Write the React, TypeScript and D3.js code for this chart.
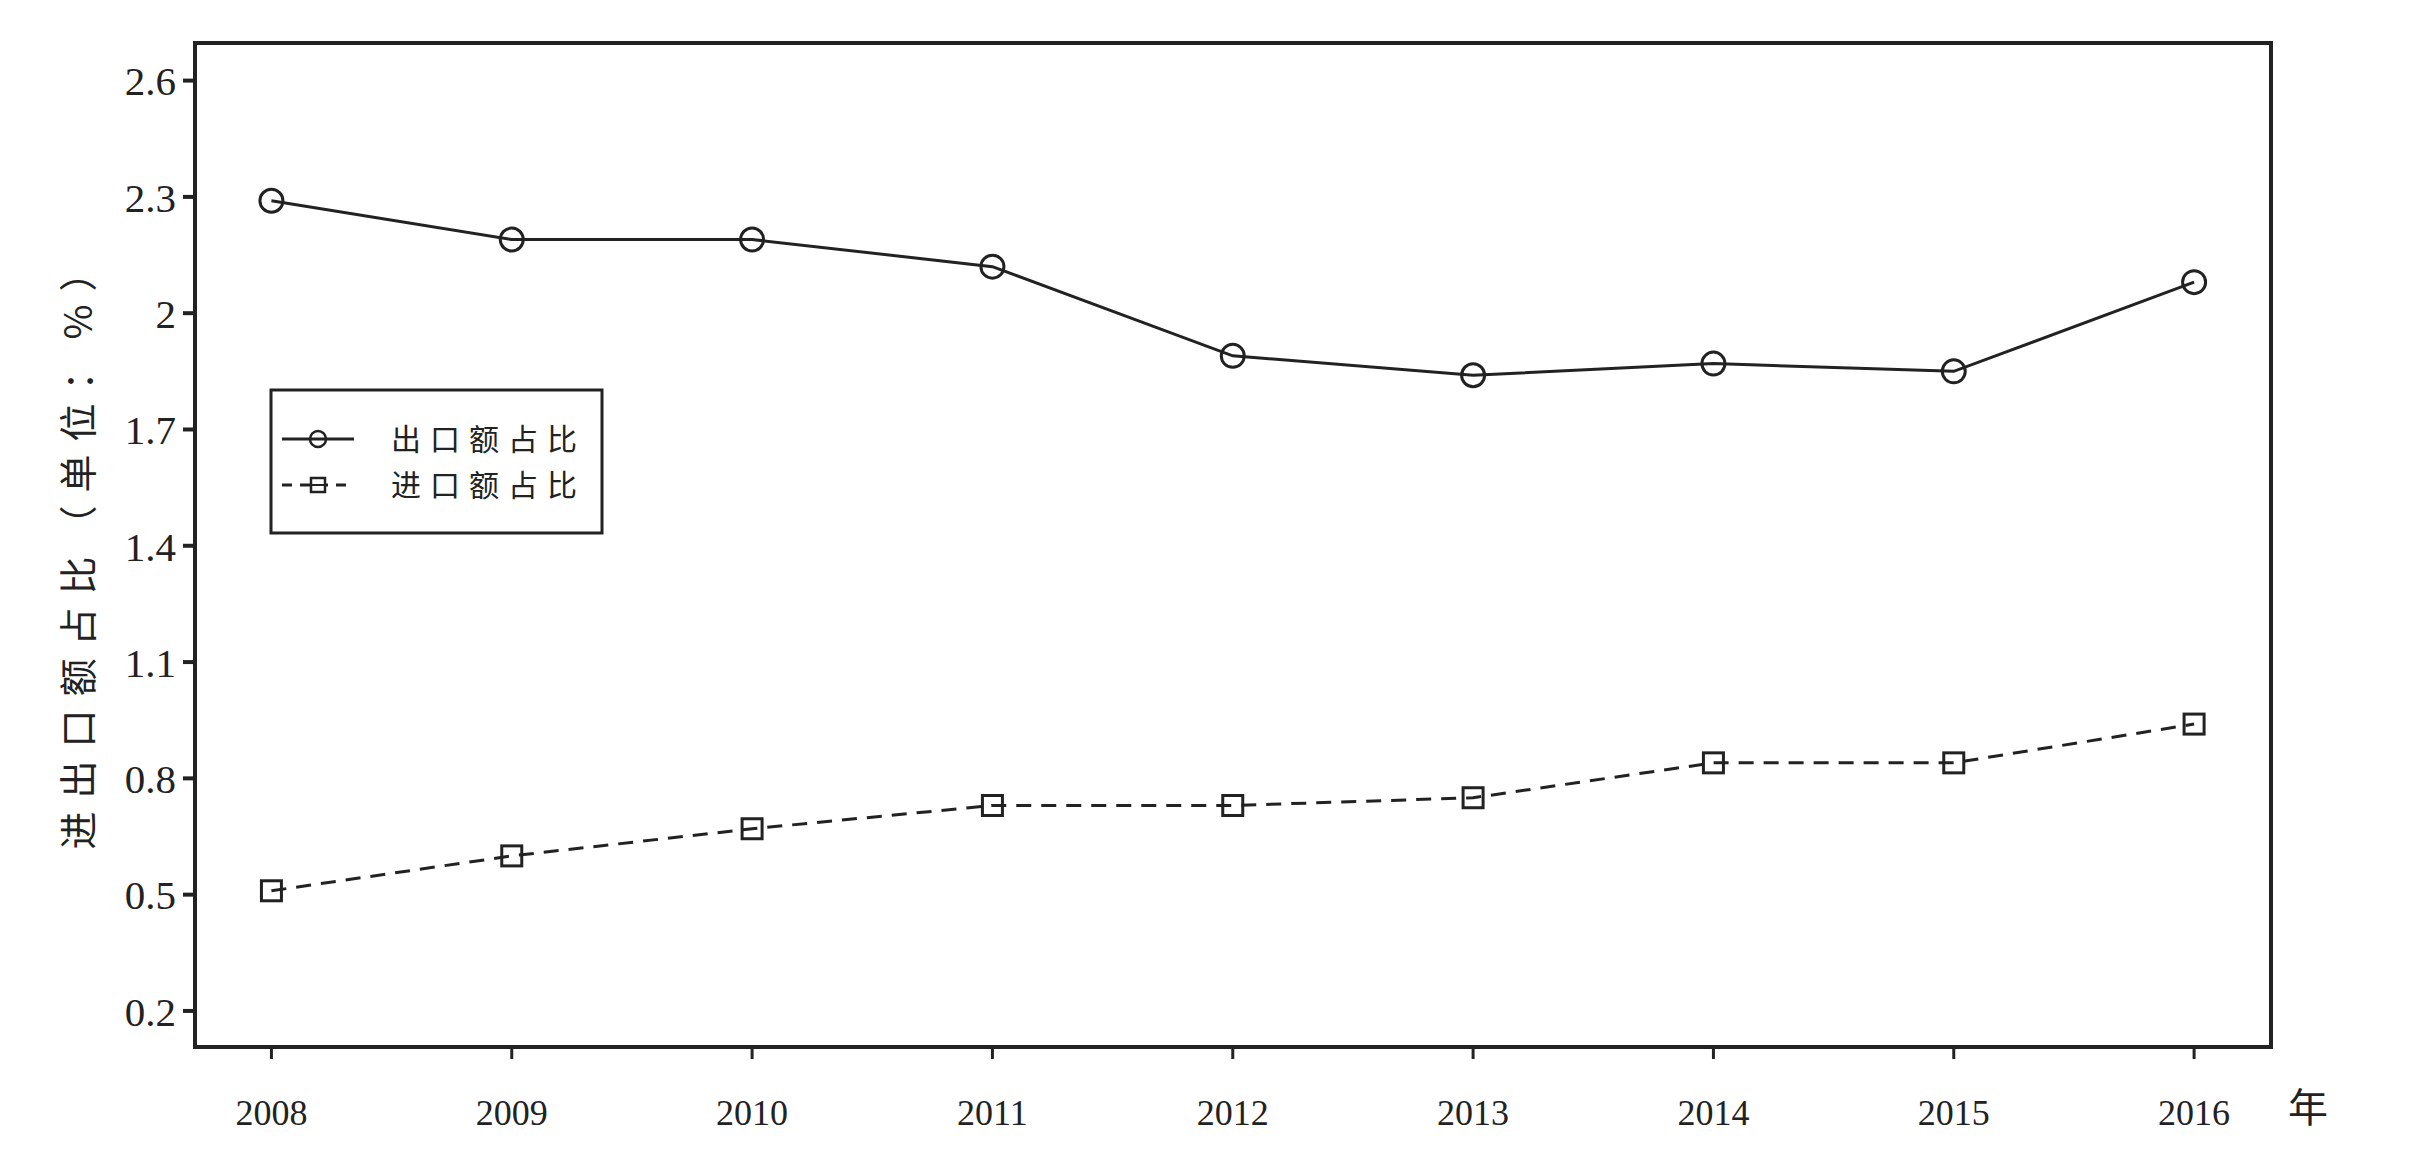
import { line, scaleLinear } from 'd3';
import React from 'react';

const years = [2008, 2009, 2010, 2011, 2012, 2013, 2014, 2015, 2016];
const exportShare = [2.29, 2.19, 2.19, 2.12, 1.89, 1.84, 1.87, 1.85, 2.08];
const importShare = [0.51, 0.6, 0.67, 0.73, 0.73, 0.75, 0.84, 0.84, 0.94];
const yTicks = [0.2, 0.5, 0.8, 1.1, 1.4, 1.7, 2.0, 2.3, 2.6];
const yTickLabels = ['0.2', '0.5', '0.8', '1.1', '1.4', '1.7', '2', '2.3', '2.6'];
const seriesNames = ['出口额占比', '进口额占比'];

const width = 2417;
const height = 1161;
const frame = { left: 195, right: 2271, top: 43, bottom: 1047 };
const ink = '#222';
const serif = '"Liberation Serif", "Times New Roman", serif';
const cjk = '"Noto Sans CJK SC", sans-serif';

const App = () => {
	const xScale = scaleLinear()
		.domain([2007.682, 2016.32])
		.range([frame.left, frame.right]);
	const yScale = scaleLinear()
		.domain([0.107, 2.697])
		.range([frame.bottom, frame.top]);

	const path = line<number>()
		.x((_, i) => xScale(years[i]))
		.y(d => yScale(d));

	const legend = { x: 271, y: 390, w: 331, h: 143 };

	return (
		<svg
			width={width}
			height={height}
			style={{ position: 'absolute', left: 0, top: 0, background: '#fff' }}
		>
			<rect x={0} y={0} width={width} height={height} fill="#fff" />

			{/* frame */}
			<rect
				x={frame.left}
				y={frame.top}
				width={frame.right - frame.left}
				height={frame.bottom - frame.top}
				fill="none"
				stroke={ink}
				strokeWidth={4}
			/>

			{/* y axis */}
			{yTicks.map((t, i) => (
				<g key={t} transform={`translate(${frame.left},${yScale(t)})`}>
					<line x1={-12} x2={0} stroke={ink} strokeWidth={4} />
					<text
						x={-19}
						dy="0.36em"
						textAnchor="end"
						fontFamily={serif}
						fontSize={41}
						fill={ink}
					>
						{yTickLabels[i]}
					</text>
				</g>
			))}

			{/* x axis */}
			{years.map(yr => (
				<g key={yr} transform={`translate(${xScale(yr)},${frame.bottom})`}>
					<line y1={0} y2={12} stroke={ink} strokeWidth={3} />
					<text
						y={78}
						textAnchor="middle"
						fontFamily={serif}
						fontSize={36}
						fill={ink}
					>
						{yr}
					</text>
				</g>
			))}
			<text
				x={2308}
				y={1122}
				textAnchor="middle"
				fontFamily={cjk}
				fontSize={40}
				fill={ink}
			>
				年
			</text>

			<text
				transform={`translate(92,545) rotate(-90)`}
				textAnchor="middle"
				fontFamily={cjk}
				fontSize={38}
				letterSpacing={13}
				fill={ink}
			>
				进出口额占比（单位：%）
			</text>

			{/* series */}
			<path d={path(exportShare) || ''} fill="none" stroke={ink} strokeWidth={3} />
			<path
				d={path(importShare) || ''}
				fill="none"
				stroke={ink}
				strokeWidth={3}
				strokeDasharray="15,10"
			/>
			{exportShare.map((v, i) => (
				<circle
					key={years[i]}
					cx={xScale(years[i])}
					cy={yScale(v)}
					r={11.5}
					fill="none"
					stroke={ink}
					strokeWidth={3}
				/>
			))}
			{importShare.map((v, i) => (
				<rect
					key={years[i]}
					x={xScale(years[i]) - 10}
					y={yScale(v) - 10}
					width={20}
					height={20}
					fill="none"
					stroke={ink}
					strokeWidth={3}
				/>
			))}

			{/* legend */}
			<rect
				x={legend.x}
				y={legend.y}
				width={legend.w}
				height={legend.h}
				fill="#fff"
				stroke={ink}
				strokeWidth={3}
			/>
			<g transform={`translate(${legend.x},${legend.y + 49})`}>
				<line x1={11} x2={83} stroke={ink} strokeWidth={3} />
				<circle cx={47} r={8} fill="none" stroke={ink} strokeWidth={2.5} />
				<text
					x={120}
					dy="0.36em"
					fontFamily={cjk}
					fontSize={30}
					letterSpacing={9}
					fill={ink}
				>
					{seriesNames[0]}
				</text>
			</g>
			<g transform={`translate(${legend.x},${legend.y + 95})`}>
				<line x1={11} x2={83} stroke={ink} strokeWidth={3} strokeDasharray="10,8" />
				<rect x={40} y={-7} width={14} height={14} fill="#fff" stroke={ink} strokeWidth={2.5} />
				<line x1={40} x2={54} stroke={ink} strokeWidth={2} />
				<text
					x={120}
					dy="0.36em"
					fontFamily={cjk}
					fontSize={30}
					letterSpacing={9}
					fill={ink}
				>
					{seriesNames[1]}
				</text>
			</g>
		</svg>
	);
};

export default App;
